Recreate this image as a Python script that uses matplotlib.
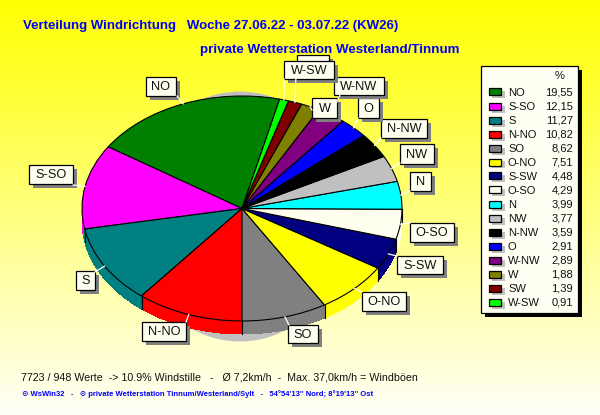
import numpy as np
import matplotlib
matplotlib.use("Agg")
import matplotlib.pyplot as plt
from matplotlib.patches import Rectangle, Ellipse

plt.rcParams['font.family'] = ['Liberation Sans', 'DejaVu Sans']

# wind direction shares, legend order
directions = ["NO", "S-SO", "S", "N-NO", "SO", "O-NO", "S-SW", "O-SO", "N", "NW", "N-NW", "O", "W-NW", "W", "SW", "W-SW"]
shares = [19.55, 12.15, 11.27, 10.82, 8.62, 7.51, 4.48, 4.29, 3.99, 3.77, 3.59, 2.91, 2.89, 1.88, 1.39, 0.91]
share_labels = ["19,55", "12,15", "11,27", "10,82", "8,62", "7,51", "4,48", "4,29", "3,99", "3,77", "3,59", "2,91", "2,89", "1,88", "1,39", "0,91"]
colors = ["#008000", "#FF00FF", "#008080", "#FF0000", "#808080", "#FFFF00", "#000080", "#FFFFF0",
          "#00FFFF", "#C0C0C0", "#000000", "#0000FF", "#800080", "#808000", "#800000", "#00FF00"]

# label boxes in pixels: x0, y0, x1, y1
label_boxes = [(146, 77, 176, 96), (29, 165, 73, 184), (76, 271, 95, 290), (142, 322, 186, 341),
               (288, 325, 318, 343), (362, 292, 406, 311), (397, 256, 443, 274), (410, 223, 454, 242),
               (410, 172, 431, 191), (400, 144, 434, 164), (381, 119, 427, 138), (358, 98, 379, 118),
               (334, 77, 384, 95), (312, 98, 337, 118), (297, 55, 329, 75), (284, 61, 334, 79)]
# where the white leader meets the box
leader_ends = [(177, 96), (73, 185), (95, 272), (186, 322), (289, 325), (362, 292), (397, 256), (410, 223),
               (410, 191), (400, 163), (381, 138), (358, 118), (340, 95), (312, 110), (296, 75), (284, 79)]

W, H = 600, 415
cx, cy, rx, ry = 242, 208.5, 160, 112.5
depth = 13
start = 76.4

fig = plt.figure(figsize=(W / 100, H / 100), dpi=100)

# background gradient + pie shadow
bg = fig.add_axes([0, 0, 1, 1], zorder=0)
bg.set_xlim(0, W)
bg.set_ylim(H, 0)
bg.axis("off")
grad = np.ones((H, 1, 3))
grad[:, 0, 2] = np.linspace(0, 0.97, H)
bg.imshow(grad, extent=(0, W, H, 0), aspect="auto", interpolation="bilinear")
bg.add_patch(Ellipse((240, 216.5), 220, 250, fc="#C0C0C0", ec="none"))

# pie axes lines up with the pixel grid, 1 unit = rx / ry
ax = fig.add_axes([0, 0, 1, 1], zorder=1)
ax.patch.set_alpha(0)
for d in range(depth, 0, -1):
    ax.pie(shares, colors=colors, startangle=start, radius=1, center=(0, -d / ry),
           wedgeprops=dict(linewidth=0, antialiased=False))
ax.pie(shares, colors=colors, startangle=start, radius=1, center=(0, 0),
       wedgeprops=dict(edgecolor="black", linewidth=0.8))

# slice boundaries on the front wall
bounds = start + np.cumsum(shares) * 3.6
for b in bounds:
    if 180 < b % 360 < 360:
        bx, by = np.cos(np.radians(b)), np.sin(np.radians(b))
        ax.plot([bx, bx], [by, by - depth / ry], color="black", lw=0.8)

ax.set_aspect("auto")
ax.set_xlim((0 - cx) / rx, (W - cx) / rx)
ax.set_ylim((cy - H) / ry, cy / ry)
ax.axis("off")

# overlay in pixel coordinates
ov = fig.add_axes([0, 0, 1, 1], zorder=2)
ov.patch.set_alpha(0)
ov.set_xlim(0, W)
ov.set_ylim(H, 0)
ov.axis("off")

mids = np.radians(bounds - np.array(shares) * 1.8)
for m, end in zip(mids, leader_ends):
    ov.plot([cx + rx * np.cos(m), end[0]], [cy - ry * np.sin(m), end[1]], color="white", lw=0.9)

for name, (x0, y0, x1, y1) in zip(directions, label_boxes):
    ov.add_patch(Rectangle((x0 + 4, y0 + 4), x1 - x0, y1 - y0, fc="#808080", ec="none"))
    ov.add_patch(Rectangle((x0, y0), x1 - x0, y1 - y0, fc="#FFFFF0", ec="black", lw=0.9))
    # the SW box sits behind W-SW in the original, its text can't be seen
    if name != "SW":
        ov.text((x0 + x1) / 2, (y0 + y1) / 2 + 0.5, name, ha="center", va="center", fontsize=9.2, color="#101010")

# titles
ov.text(23, 26, "Verteilung Windrichtung   Woche 27.06.22 - 03.07.22 (KW26)", color="#0000FF",
        fontsize=9.5, fontweight="bold", va="center")
ov.text(200, 50, "private Wetterstation Westerland/Tinnum", color="#0000FF",
        fontsize=9.6, fontweight="bold", va="center")

# legend
ov.add_patch(Rectangle((485, 70), 97, 247, fc="black", ec="none"))
ov.add_patch(Rectangle((481, 66), 97, 247, fc="#FFFFF4", ec="black", lw=0.9))
ov.text(560, 76, "%", ha="center", va="center", fontsize=8, color="#101010")
for i, (name, lab, col) in enumerate(zip(directions, share_labels, colors)):
    y = 92 + i * 14
    ov.add_patch(Rectangle((492, y - 0.5), 13, 7, fc="#C0C0C0", ec="none"))
    ov.add_patch(Rectangle((488.5, y - 3.5), 12, 7, fc=col, ec="black", lw=0.9))
    ov.text(508, y + 0.5, name, va="center", fontsize=8, color="#101010")
    ov.text(573, y + 0.5, lab, ha="right", va="center", fontsize=8, color="#101010")

# footer
ov.text(21, 377, "7723 / 948 Werte  -> 10.9% Windstille   -   Ø 7,2km/h  -  Max. 37,0km/h = Windböen",
        fontsize=7.65, va="center", color="#101010")
ov.text(22, 394, "⊙ WsWin32   -   ⊙ private Wetterstation Tinnum/Westerland/Sylt   -   54°54'13'' Nord; 8°19'13'' Ost",
        fontsize=5.5, va="center", color="#0000FF", fontweight="bold")

fig.savefig("out.png", dpi=100)
